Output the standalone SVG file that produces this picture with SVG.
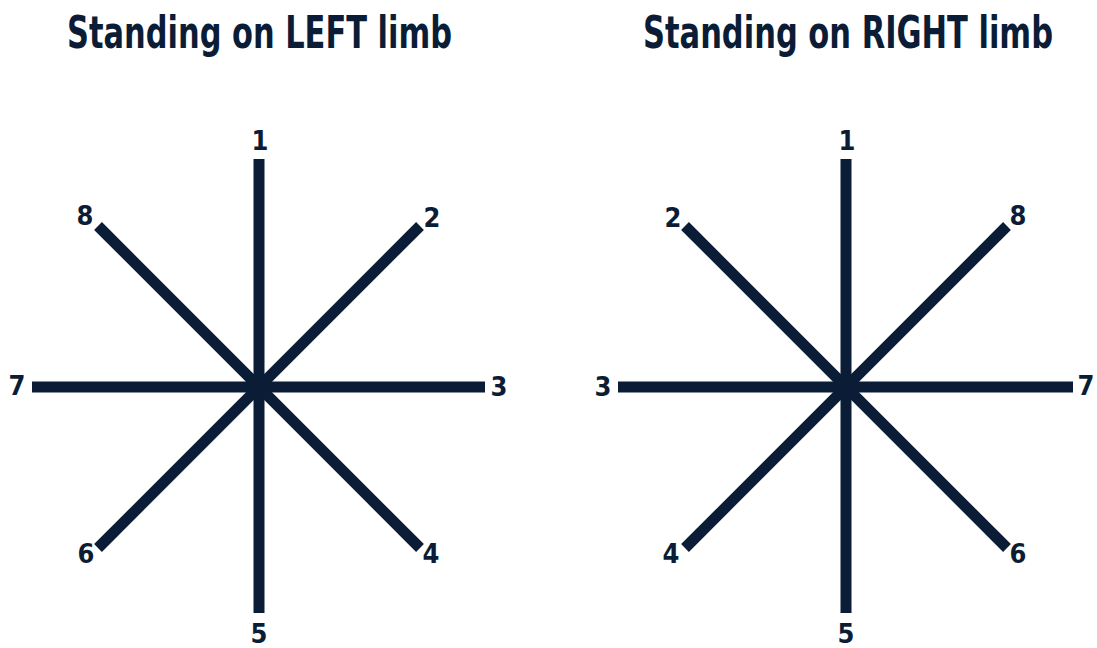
<svg xmlns="http://www.w3.org/2000/svg" width="1097" height="648" viewBox="0 0 1097 648">
<style>
.t{font-family:"DejaVu Sans Condensed","DejaVu Sans",sans-serif;font-weight:bold;font-stretch:condensed;fill:#0b1d36;font-size:45px}
.n{font-family:"DejaVu Sans Condensed","DejaVu Sans",sans-serif;font-weight:bold;font-stretch:condensed;fill:#0b1d36;font-size:27px;text-anchor:middle}
.ln{stroke:#0b1d36;stroke-width:11;fill:none}
</style>
<rect width="1097" height="648" fill="#ffffff"/>
<text class="t" x="67" y="48" textLength="385" lengthAdjust="spacingAndGlyphs">Standing on LEFT limb</text>
<text class="t" x="643" y="48" textLength="410" lengthAdjust="spacingAndGlyphs">Standing on RIGHT limb</text>
<g id="connectors">
<line class="ln" x1="259" y1="159" x2="259" y2="613"/>
<line class="ln" x1="32" y1="387" x2="485" y2="387"/>
<line class="ln" x1="98" y1="226" x2="420" y2="548"/>
<line class="ln" x1="420" y1="226" x2="98" y2="548"/>
<line class="ln" x1="846" y1="159" x2="846" y2="613"/>
<line class="ln" x1="618" y1="387" x2="1073" y2="387"/>
<line class="ln" x1="685" y1="226" x2="1007" y2="548"/>
<line class="ln" x1="1007" y1="226" x2="685" y2="548"/>
</g>
<g id="left-1"><text class="n" x="260" y="150">1</text></g>
<g id="left-2"><text class="n" x="432" y="227">2</text></g>
<g id="left-3"><text class="n" x="499" y="396">3</text></g>
<g id="left-4"><text class="n" x="431" y="563">4</text></g>
<g id="left-5"><text class="n" x="259" y="643">5</text></g>
<g id="left-6"><text class="n" x="86" y="563">6</text></g>
<g id="left-7"><text class="n" x="17" y="395">7</text></g>
<g id="left-8"><text class="n" x="85" y="225">8</text></g>
<g id="right-1"><text class="n" x="847" y="150">1</text></g>
<g id="right-2"><text class="n" x="673" y="227">2</text></g>
<g id="right-3"><text class="n" x="603" y="396">3</text></g>
<g id="right-4"><text class="n" x="671" y="563">4</text></g>
<g id="right-5"><text class="n" x="846" y="643">5</text></g>
<g id="right-6"><text class="n" x="1018" y="563">6</text></g>
<g id="right-7"><text class="n" x="1086" y="395">7</text></g>
<g id="right-8"><text class="n" x="1018" y="225">8</text></g>
</svg>
